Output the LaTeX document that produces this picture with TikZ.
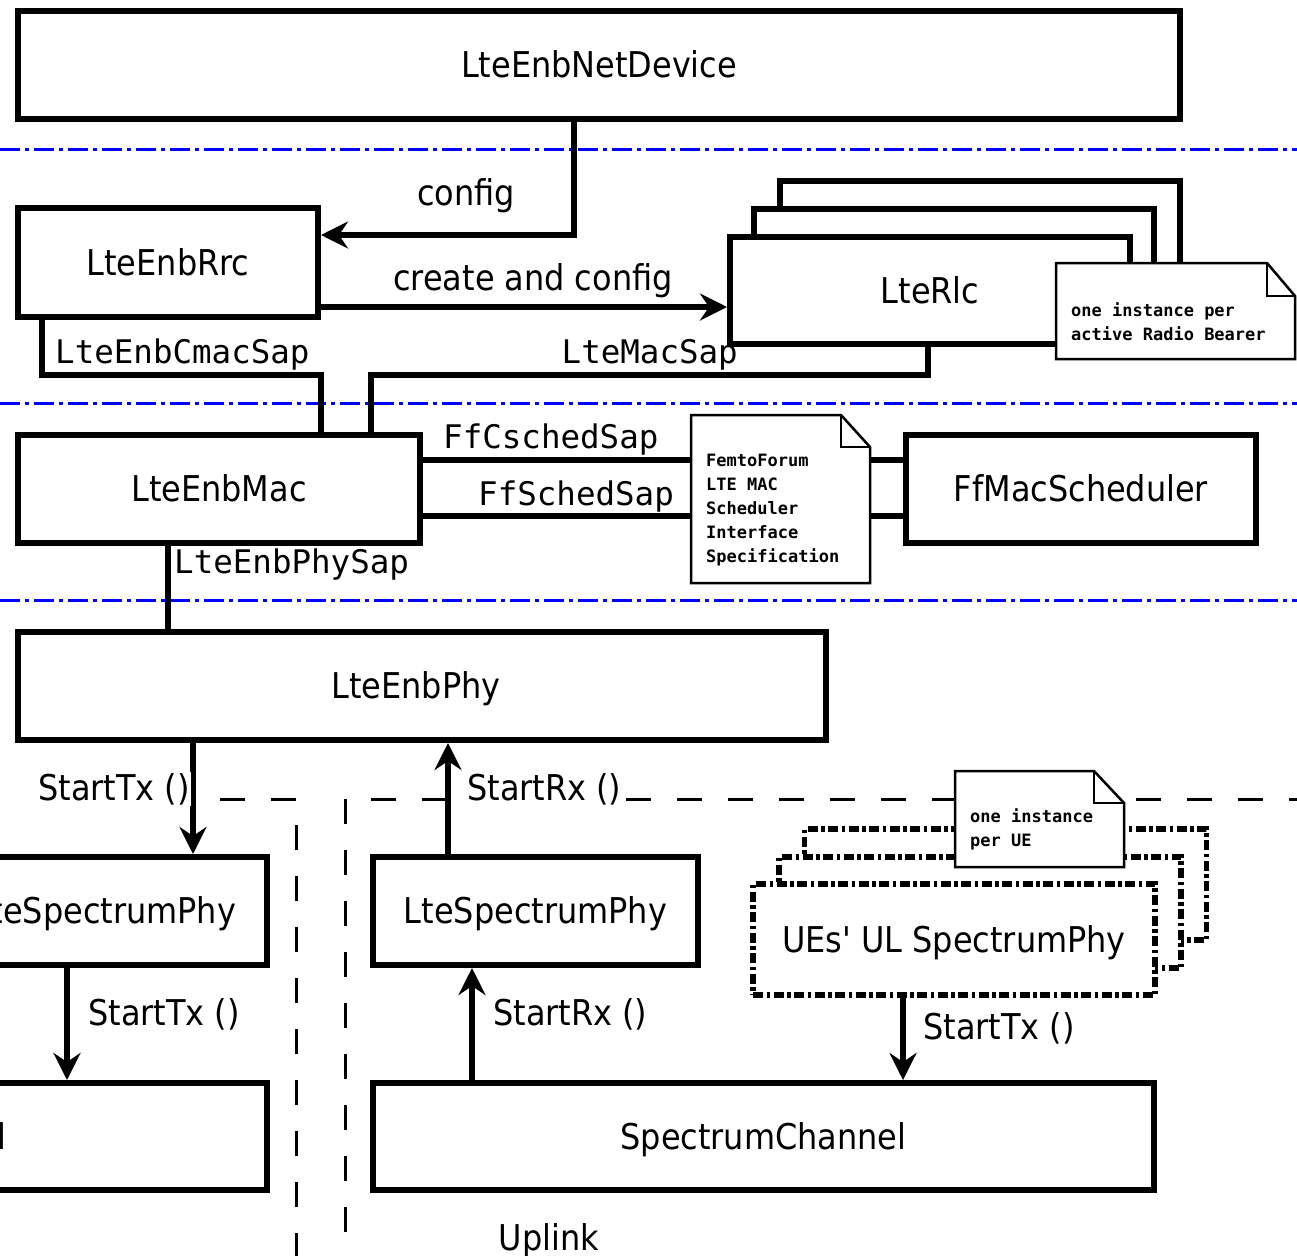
\documentclass[tikz,border=0pt]{standalone}
\usepackage{fontspec}
\usetikzlibrary{arrows.meta}
\IfFontExistsTF{DejaVu Sans Condensed}
  {\newfontfamily\condfont[Ligatures=TeXOff]{DejaVu Sans Condensed}}
  {\newfontfamily\condfont[Ligatures=TeXOff,FakeStretch=0.9]{DejaVu Sans}}
\newfontfamily\sapfont{DejaVu Sans Mono}
\newcommand\lblfont{\condfont\fontsize{35.5}{40}\selectfont}
\newcommand\sapsize{\sapfont\fontsize{32.5}{36}\selectfont}
\newcommand\notesize{\sapfont\bfseries\fontsize{17}{24}\selectfont}

\begin{document}
\begin{tikzpicture}[x=1pt,y=-1pt,
  box/.style={draw, rectangle, line width=6pt, fill=white, inner sep=0pt,
    font=\lblfont, text height=25.9pt, text depth=0pt},
  uebox/.style={box, line width=5.5pt, dash pattern=on 10pt off 3.5pt on 3.5pt off 3.5pt,
    minimum width=402pt, minimum height=111pt},
  conn/.style={line width=5.5pt},
  arrowto/.style={conn, -{Stealth[length=27pt,width=27pt,inset=9pt]}},
  layersep/.style={blue, line width=3pt, dash pattern=on 20pt off 5pt on 4pt off 5pt},
  frame/.style={black, line width=3pt, dash pattern=on 25pt off 26pt},
  lbl/.style={font=\lblfont, inner sep=1pt, fill=white},
  sap/.style={font=\sapsize, inner sep=1pt, fill=white},
  noteline/.style={draw, line width=2.5pt, fill=white, line join=miter},
  foldline/.style={line width=1.2pt},
  notetext/.style={font=\notesize, align=left, inner sep=0pt}]

\useasboundingbox (0,0) rectangle (1297,1255);
\clip (0,0) rectangle (1297,1255);
\fill[white] (0,0) rectangle (1297,1255);

% layer separators
\draw[layersep] (0,149) -- (1297,149);
\draw[layersep] (0,403) -- (1297,403);
\draw[layersep] (0,600) -- (1297,600);

% downlink / uplink frames
\draw[frame] (169,799) -- (296,799) -- (296,1270);
\draw[frame, dash phase=25pt] (345,799) -- (1310,799);
\draw[frame] (345,799) -- (345,1270);

% eNB device and protocol entities
\node[box, minimum width=1162pt, minimum height=108pt] (dev) at (599,65) {LteEnbNetDevice};
\node[box, minimum width=300pt, minimum height=109pt] (rrc) at (168,262.5) {LteEnbRrc};
\node[box, minimum width=400pt, minimum height=107pt] (rlcC) at (979.5,234.5) {};
\node[box, minimum width=400pt, minimum height=107pt] (rlcB) at (954,262.5) {};
\node[box, minimum width=400pt, minimum height=107pt] (rlc) at (930,290.5) {LteRlc};
\node[box, minimum width=402pt, minimum height=108pt] (mac) at (219,489) {LteEnbMac};
\node[box, minimum width=350pt, minimum height=108pt] (sched) at (1081,489) {FfMacScheduler};
\node[box, minimum width=808pt, minimum height=108pt] (phy) at (422,686) {\hspace*{-12pt}LteEnbPhy};

% spectrum phys and channels
\node[box, minimum width=325pt, minimum height=108pt] (dlspec) at (104.5,911) {LteSpectrumPhy};
\node[box, minimum width=325pt, minimum height=108pt] (ulspec) at (535.5,911) {LteSpectrumPhy};
\node[box, minimum width=808pt, minimum height=107pt] (dlchan) at (-137,1136.5) {SpectrumChannel};
\node[box, minimum width=781pt, minimum height=107pt] (ulchan) at (763.5,1136.5) {SpectrumChannel};

% stacked UE spectrum phys
\node[uebox] (ueC) at (1005.5,884.5) {};
\node[uebox] (ueB) at (980,912.5) {};
\node[uebox] (ue) at (954,939.5) {UEs' UL SpectrumPhy};

% connectors
\draw[arrowto] (dev.south -| 574,0) -- (574,235) -- (rrc.east |- 0,235);
\draw[arrowto] (rrc.east |- 0,307) -- (rlc.west |- 0,307);
\draw[conn] (rrc.south -| 42,0) -- (42,375) -- (321,375) -- (mac.north -| 321,0);
\draw[conn] (rlc.south -| 928,0) -- (928,375) -- (371,375) -- (mac.north -| 371,0);
\draw[conn] (mac.east |- 0,460) -- (sched.west |- 0,460);
\draw[conn] (mac.east |- 0,516) -- (sched.west |- 0,516);
\draw[conn] (mac.south -| 168,0) -- (phy.north -| 168,0);
\draw[arrowto] (phy.south -| 193,0) -- (dlspec.north -| 193,0);
\draw[arrowto] (ulspec.north -| 448,0) -- (phy.south -| 448,0);
\draw[arrowto] (dlspec.south -| 67,0) -- (dlchan.north -| 67,0);
\draw[arrowto] (ulchan.north -| 472,0) -- (ulspec.south -| 472,0);
\draw[arrowto] (ue.south -| 903,0) -- (ulchan.north -| 903,0);

% notes
\draw[noteline] (1056,263) -- (1267,263) -- (1295,296) -- (1295,359) -- (1056,359) -- cycle;
\draw[foldline] (1267,263) -- (1267,296) -- (1295,296);
\node[notetext, anchor=west] (rbnote) at (1071,321.5) {one instance per\\active Radio Bearer};

\draw[noteline] (691,415) -- (841,415) -- (870,447) -- (870,583) -- (691,583) -- cycle;
\draw[foldline] (841,415) -- (841,447) -- (870,447);
\node[notetext, anchor=west] (ffnote) at (706,510.5) {FemtoForum\\LTE MAC\\Scheduler\\Interface\\Specification};

\draw[noteline] (955,771) -- (1094,771) -- (1124,803) -- (1124,867) -- (955,867) -- cycle;
\draw[foldline] (1094,771) -- (1094,803) -- (1124,803);
\node[notetext, anchor=west] (uenote) at (970,829.5) {one instance\\per UE};

% connector labels
\node[lbl, anchor=base] (lconfig) at (466,205) {config};
\node[lbl, anchor=base] (lcreate) at (533,290) {create and config};
\node[sap, anchor=base west] (lcmac) at (54,363) {LteEnbCmacSap};
\node[sap, anchor=base east, fill=none] (lmac) at (739,363) {LteMacSap};
\node[sap, anchor=base west] (lcsched) at (442,448) {FfCschedSap};
\node[sap, anchor=base west] (lsched) at (477,505) {FfSchedSap};
\node[sap, anchor=base west] (lphysap) at (173,573) {LteEnbPhySap};
\node[lbl, anchor=base east] (ltx1) at (191,800) {StartTx ()};
\node[lbl, anchor=base west] (lrx1) at (466,800) {StartRx ()};
\node[lbl, anchor=base west] (ltx2) at (87,1025) {StartTx ()};
\node[lbl, anchor=base west] (lrx2) at (492,1025) {StartRx ()};
\node[lbl, anchor=base west] (ltx3) at (922,1039) {StartTx ()};
\node[lbl, anchor=base, fill=none] (luplink) at (549,1250) {Uplink};
\end{tikzpicture}
\end{document}
